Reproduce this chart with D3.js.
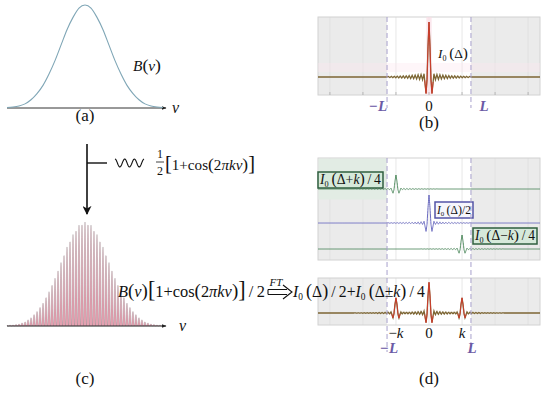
<!DOCTYPE html>
<html>
<head>
<meta charset="utf-8">
<script src="https://cdn.jsdelivr.net/npm/d3@7"></script>
<style>
body { margin: 0; background: #fff; }
svg { display: block; }
</style>
</head>
<body>
<svg id="fig" width="550" height="393"></svg>
<script>
// spectrum B(nu), nu in units of the line width
var gaussNu = [-3.25,-3,-2.75,-2.5,-2.25,-2,-1.75,-1.5,-1.25,-1,-0.75,-0.5,-0.25,0,0.25,0.5,0.75,1,1.25,1.5,1.75,2,2.25,2.5,2.75,3,3.25];
var gaussB = [0.005,0.01,0.02,0.04,0.08,0.14,0.22,0.33,0.46,0.61,0.76,0.88,0.97,1,0.97,0.88,0.76,0.61,0.46,0.33,0.22,0.14,0.08,0.04,0.02,0.01,0.005];
var fringeK = 8; // fringes per unit nu in panel (c)

// interferogram I0(delta) around zero path difference
var coreDelta = [-0.15,-0.12,-0.09,-0.06,-0.03,0,0.03,0.06,0.09,0.12,0.15];
var coreI = [0.06,-0.12,-0.30,-0.05,0.55,1,0.55,-0.05,-0.30,-0.12,0.06];
var rippleAmp = [0.05,0.045,0.042,0.039,0.036,0.033,0.031,0.029,0.027,0.025,0.023,0.021,0.02,0.019,0.018,0.017,0.016,0.015,0.014,0.013,0.012,0.011,0.01,0.009];
var rippleStart = 0.195, rippleStep = 0.045;

// the three shifted copies of panel (d)
var compShift = [-1, 0, 1];          // -k, 0, k
var compWeight = [0.25, 0.5, 0.25];
var compColor = ["#4f8a5e", "#6a6ac0", "#4f8a5e"];
var halfL = 1.27;                    // L in units of k
var gridTicks = [-3,-2,-1,0,1,2,3];

var FONT = "'Liberation Serif', 'Times New Roman', Times, serif";
var TS = "\u2009";
var svg = d3.select("#fig");
var gMarks = svg.append("g");
var gText = svg.append("g");

// ---- build I0 samples
var i0Delta = [-4], i0Val = [0];
var rEnd = rippleStart + rippleAmp.length * rippleStep;
i0Delta.push(-rEnd); i0Val.push(0);
for (var i = rippleAmp.length - 1; i >= 0; i--) {
  i0Delta.push(-(rippleStart + i * rippleStep));
  i0Val.push(i % 2 == 0 ? -rippleAmp[i] : rippleAmp[i]);
}
coreDelta.forEach(function(d, j){ i0Delta.push(d); i0Val.push(coreI[j]); });
for (var i = 0; i < rippleAmp.length; i++) {
  i0Delta.push(rippleStart + i * rippleStep);
  i0Val.push(i % 2 == 0 ? -rippleAmp[i] : rippleAmp[i]);
}
i0Delta.push(rEnd); i0Val.push(0);
i0Delta.push(4); i0Val.push(0);
var I0 = d3.scaleLinear().domain(i0Delta).range(i0Val).clamp(true);
var envelope = d3.scaleLinear().domain(gaussNu).range(gaussB).clamp(true);

var xs = d3.range(-3.36, 3.365, 0.005);

// ---- markers
var defs = svg.append("defs");
defs.append("marker").attr("id", "ah").attr("viewBox", "0 0 10 10")
  .attr("refX", 9).attr("refY", 5).attr("markerWidth", 5).attr("markerHeight", 5)
  .attr("orient", "auto").attr("markerUnits", "userSpaceOnUse")
  .append("path").attr("d", "M0,1 L10,5 L0,9 Z").attr("fill", "#222");
defs.append("marker").attr("id", "ahBig").attr("viewBox", "0 0 10 10")
  .attr("refX", 9).attr("refY", 5).attr("markerWidth", 9).attr("markerHeight", 9)
  .attr("orient", "auto").attr("markerUnits", "userSpaceOnUse")
  .append("path").attr("d", "M0,0 L10,5 L0,10 L3,5 Z").attr("fill", "#111");

// text helpers
function it(s) { return '<tspan font-style="italic">' + s + '</tspan>'; }
function big(s, k) { return '<tspan font-size="' + (k || 1.15) + 'em">' + s + '</tspan>'; }
var I0t = it("I") + '<tspan font-size="0.6em" dy="0.35em">0</tspan><tspan dy="-0.21em">' + TS + '</tspan>';
// fit: scale the font so the whole formula spans `len` pixels
function tex(x, y, size, html, anchor, len) {
  var t = gText.append("text").attr("x", x).attr("y", y).attr("font-size", size)
    .attr("font-family", FONT).attr("fill", "#111")
    .attr("text-anchor", anchor || "start").html(html);
  if (len) {
    var w = t.node().getComputedTextLength();
    if (w > 0) t.attr("font-size", size * len / w);
  }
  return t;
}

// ---- panel (a)
var xNu = d3.scaleLinear().domain([-3.25, 3.25]).range([7, 163]);
var yA = d3.scaleLinear().domain([0, 1]).range([108, 5]);
var lineA = d3.line().x(function(d){ return xNu(d[0]); }).y(function(d){ return yA(d[1]); }).curve(d3.curveMonotoneX);
gMarks.append("line").attr("x1", 7).attr("x2", 166).attr("y1", 108).attr("y2", 108)
  .attr("stroke", "#333").attr("stroke-width", 1).attr("marker-end", "url(#ah)");
gMarks.append("path").datum(d3.zip(gaussNu, gaussB)).attr("d", lineA)
  .attr("fill", "none").attr("stroke", "#7fa6b6").attr("stroke-width", 1.1);
tex(172, 113, 16, it("ν"));
tex(133, 71, 16, it("B") + big("(") + it("ν") + big(")"), null, 28);
tex(85, 121, 17, "(a)", "middle");

// ---- connector between (a) and (c)
gMarks.append("line").attr("x1", 87).attr("x2", 87).attr("y1", 144).attr("y2", 214)
  .attr("stroke", "#111").attr("stroke-width", 1.6).attr("marker-end", "url(#ahBig)");
gMarks.append("line").attr("x1", 87).attr("x2", 107).attr("y1", 163).attr("y2", 163)
  .attr("stroke", "#111").attr("stroke-width", 1.4);
var wig = d3.range(0, 29.01, 0.5).map(function(t){ return [115 + t, 163 - 4 * Math.cos(2 * Math.PI * t / 9.7)]; });
gMarks.append("path").attr("d", d3.line()(wig)).attr("fill", "none").attr("stroke", "#111").attr("stroke-width", 1.1);
tex(160, 158, 12, "1", "middle");
gMarks.append("line").attr("x1", 156).attr("x2", 164).attr("y1", 162).attr("y2", 162).attr("stroke", "#111").attr("stroke-width", 0.8);
tex(160, 175, 12, "2", "middle");
tex(165, 170, 15, big("[", 1.35) + "1+cos" + big("(") + "2" + it("πkν") + big(")") + big("]", 1.35), null, 90);

// ---- panel (c)
var yC = d3.scaleLinear().domain([0, 1]).range([326, 222]);
var nus = d3.range(-3.25, 3.2501, 0.01);
var fr = nus.map(function(n){ return [n, envelope(n) * (1 + Math.cos(2 * Math.PI * fringeK * n)) / 2]; });
var areaC = d3.area().x(function(d){ return xNu(d[0]); }).y0(yC(0)).y1(function(d){ return yC(d[1]); });
gMarks.append("path").datum(fr).attr("d", areaC)
  .attr("fill", "#e8a3b3").attr("stroke", "#8a7a80").attr("stroke-width", 0.35);
gMarks.append("line").attr("x1", 7).attr("x2", 166).attr("y1", 326).attr("y2", 326)
  .attr("stroke", "#333").attr("stroke-width", 1).attr("marker-end", "url(#ah)");
tex(179, 331, 16, it("ν"));
tex(85, 384, 17, "(c)", "middle");

tex(118, 297, 15, it("B") + big("(") + it("ν") + big(")") + big("[", 1.35) + "1+cos" + big("(") + "2" + it("πkν") + big(")") + big("]", 1.35) + TS + "/" + TS + "2", null, 147);
gMarks.append("path").attr("d", "M268,289.5 H287 M268,294.5 H287 M268,289.5 V294.5 M283,285 L292,292 L283,299")
  .attr("fill", "none").attr("stroke", "#111").attr("stroke-width", 1.1);
tex(276, 286, 11, it("FT"), "middle");
tex(293, 297, 15, I0t + big("(") + "Δ" + big(")") + TS + "/" + TS + "2+" + I0t + big("(") + "Δ±" + it("k") + big(")") + TS + "/" + TS + "4", null, 132);

// ---- right panels
var xD = d3.scaleLinear().domain([-3.36, 3.36]).range([318, 540]);
var xl = xD(-halfL), xr = xD(halfL);

function shadedBox(y0, y1) {
  gMarks.append("rect").attr("x", xD(-3.36)).attr("y", y0).attr("width", xl - xD(-3.36)).attr("height", y1 - y0).attr("fill", "#ebebeb");
  gMarks.append("rect").attr("x", xr).attr("y", y0).attr("width", xD(3.36) - xr).attr("height", y1 - y0).attr("fill", "#ebebeb");
  gMarks.selectAll(null).data(gridTicks).enter().append("line")
    .attr("x1", function(d){ return xD(d); }).attr("x2", function(d){ return xD(d); })
    .attr("y1", y0).attr("y2", y1).attr("stroke", "#dedede").attr("stroke-width", 0.7);
  gMarks.append("rect").attr("x", xD(-3.36)).attr("y", y0).attr("width", xD(3.36) - xD(-3.36)).attr("height", y1 - y0)
    .attr("fill", "none").attr("stroke", "#d2d2d2").attr("stroke-width", 1);
}
function curve(fn, base, scale, lo, hi) {
  var pts = xs.filter(function(d){ return d >= (lo == null ? -9 : lo) && d <= (hi == null ? 9 : hi); });
  return d3.line().x(function(d){ return xD(d); }).y(function(d){ return base - scale * fn(d); })(pts);
}
function bottomTicks(y) {
  gMarks.selectAll(null).data(gridTicks).enter().append("line")
    .attr("x1", function(d){ return xD(d); }).attr("x2", function(d){ return xD(d); })
    .attr("y1", y).attr("y2", y - 3).attr("stroke", "#aaa").attr("stroke-width", 0.8);
}
function dashed(y0, y1) {
  [xl, xr].forEach(function(x){
    gMarks.append("line").attr("x1", x).attr("x2", x).attr("y1", y0).attr("y2", y1)
      .attr("stroke", "#a8a0cc").attr("stroke-width", 1).attr("stroke-dasharray", "5,3");
  });
}
function Lstyle(x, y, s) {
  tex(x, y, 15, '<tspan font-weight="bold" font-style="italic" fill="#6b5aa6">' + s + '</tspan>', "middle");
}
// red core drawn over the olive trace, like the reference
function trace(fn, base, scale, cores) {
  gMarks.append("path").attr("d", curve(fn, base, scale)).attr("fill", "none").attr("stroke", "#7d6634").attr("stroke-width", 1.3);
  cores.forEach(function(c){
    gMarks.append("path").attr("d", curve(fn, base, scale, c - 0.13, c + 0.13)).attr("fill", "none")
      .attr("stroke", "#d8352b").attr("stroke-width", 0.9);
  });
}

// panel (b)
shadedBox(17, 95);
gMarks.append("rect").attr("x", xD(-0.08)).attr("y", 17).attr("width", xD(0.08) - xD(-0.08)).attr("height", 78).attr("fill", "#f9dde6").attr("opacity", 0.7);
gMarks.append("rect").attr("x", 318).attr("y", 63).attr("width", 222).attr("height", 9).attr("fill", "#fbe6ed").attr("opacity", 0.35);
bottomTicks(95);
trace(I0, 77, 55, [0]);
dashed(17, 108);
tex(438, 58, 15, I0t + big("(") + "Δ" + big(")"), null, 30);
Lstyle(378, 111, "−L");
tex(xD(0), 111, 15, "0", "middle");
Lstyle(484, 111, "L");
tex(xD(0), 128, 17, "(b)", "middle");

// panel (d) stacked components
var rowBase = [189, 223, 249];
shadedBox(158, 260);
gMarks.append("rect").attr("x", 318.5).attr("y", 158.5).attr("width", xl - 319).attr("height", 41).attr("fill", "#e2ece4");
compShift.forEach(function(s, j){
  var fn = function(d){ return compWeight[j] * I0(d - s); };
  gMarks.append("path").attr("d", curve(fn, rowBase[j], 56)).attr("fill", "none")
    .attr("stroke", compColor[j]).attr("stroke-width", 1);
});
function labelBox(x, y, w, h, stroke, fill, html) {
  gMarks.append("rect").attr("x", x).attr("y", y).attr("width", w).attr("height", h)
    .attr("fill", fill).attr("stroke", stroke).attr("stroke-width", 1.5);
  tex(x + 2, y + h - 4, 13, html, null, w - 4);
}
labelBox(318, 172, 65, 16, "#2f5f3f", "#d6e9da", I0t + big("(") + "Δ+" + it("k") + big(")") + TS + "/" + TS + "4");
labelBox(435, 202, 38, 16, "#5454a6", "#f6f6fc", I0t + big("(", 1.05) + "Δ" + big(")", 1.05) + "/2");
labelBox(473, 228, 64, 16, "#2f5f3f", "#d6e9da", I0t + big("(") + "Δ−" + it("k") + big(")") + TS + "/" + TS + "4");

// panel (d) sum
shadedBox(278, 325);
var sumFn = function(d){
  return compShift.reduce(function(acc, s, j){ return acc + compWeight[j] * I0(d - s); }, 0);
};
trace(sumFn, 313, 62, compShift);
dashed(158, 352);
tex(xD(-1), 338, 15, "−" + it("k"), "middle");
tex(xD(0), 338, 15, "0", "middle");
tex(xD(1), 338, 15, it("k"), "middle");
Lstyle(389, 353, "−L");
Lstyle(472, 353, "L");
tex(xD(0), 384, 17, "(d)", "middle");

gText.raise();
</script>
</body>
</html>
